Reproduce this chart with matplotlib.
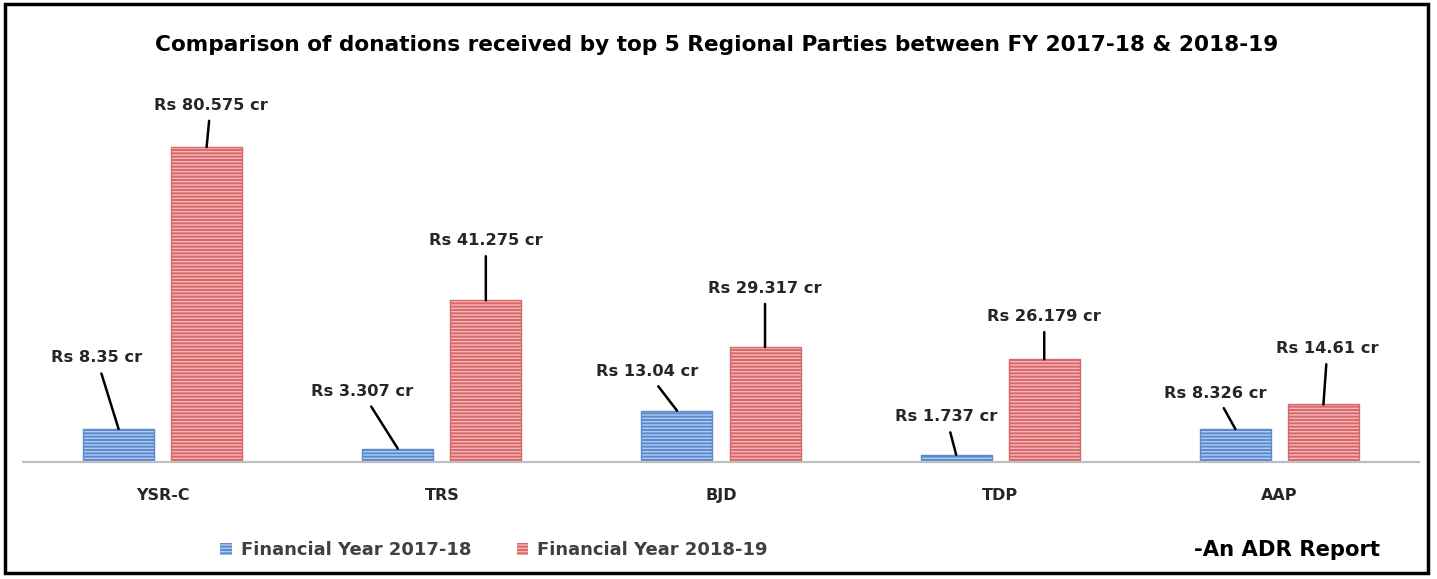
import numpy as np
import matplotlib
matplotlib.use("Agg")
import matplotlib.pyplot as plt
from matplotlib.patches import Rectangle, Patch

parties = ["YSR-C", "TRS", "BJD", "TDP", "AAP"]
fy_2017_18 = [8.35, 3.307, 13.04, 1.737, 8.326]
fy_2018_19 = [80.575, 41.275, 29.317, 26.179, 14.61]
labels_2017_18 = ["Rs 8.35 cr", "Rs 3.307 cr", "Rs 13.04 cr", "Rs 1.737 cr", "Rs 8.326 cr"]
labels_2018_19 = ["Rs 80.575 cr", "Rs 41.275 cr", "Rs 29.317 cr", "Rs 26.179 cr", "Rs 14.61 cr"]
series_names = ["Financial Year 2017-18", "Financial Year 2018-19"]

# callout text offsets (pixels) relative to the top of each bar
offsets_2017_18 = [(-22, 71), (-36, 57), (-30, 39), (-10, 38), (-20, 36)]
offsets_2018_19 = [(4, 42), (0, 60), (0, 59), (0, 43), (4, 56)]

plt.rcParams['font.family'] = ['DejaVu Sans']

W, H = 1437, 579
fig = plt.figure(figsize=(W / 100, H / 100), dpi=100)
ax = fig.add_axes([23 / W, 1 - 461.5 / H, (1419 - 23) / W, (461.5 - 100) / H])

blue, blue_light = "#5a8ad0", "#b3cbee"
red, red_light = "#d9676a", "#f3b9ba"
plt.rcParams['hatch.linewidth'] = 1.0

x = np.arange(len(parties))
width = 71 / 279
shift = (71 + 17) / 279 / 2

for vals, col, light, off in [(fy_2017_18, blue, blue_light, -shift),
                              (fy_2018_19, red, red_light, shift)]:
    ax.bar(x + off, vals, width, color=col, edgecolor=light, linewidth=0, hatch="-----")
    ax.bar(x + off, vals, width, fill=False, edgecolor=col, linewidth=1)

for vals, labs, offs, off in [(fy_2017_18, labels_2017_18, offsets_2017_18, -shift),
                              (fy_2018_19, labels_2018_19, offsets_2018_19, shift)]:
    for i, (v, lab, (dx, dy)) in enumerate(zip(vals, labs, offs)):
        ax.annotate(lab, xy=(i + off, v), xytext=(dx, dy), textcoords="offset pixels",
                    ha="center", va="center", fontsize=11.7, fontweight="bold", color="#262626",
                    arrowprops=dict(arrowstyle="-", color="black", lw=1.8, shrinkA=4, shrinkB=0))

ax.set_xlim(-0.5, 4.5)
ax.set_ylim(0, 80.575 * (461.5 - 100) / (461.5 - 147))
ax.set_xticks(x)
ax.set_xticklabels(parties, fontsize=11.5, fontweight="bold", color="#262626")
ax.tick_params(axis="x", length=0, pad=19)
ax.set_yticks([])
for s in ["top", "left", "right"]:
    ax.spines[s].set_visible(False)
ax.spines["bottom"].set_color("#bfbfbf")
ax.spines["bottom"].set_linewidth(1.6)

fig.text(717 / W, 1 - 45 / H,
         "Comparison of donations received by top 5 Regional Parties between FY 2017-18 & 2018-19",
         ha="center", va="center", fontsize=15.6, fontweight="bold", color="black")

handles = [Patch(facecolor=blue, edgecolor=blue_light, hatch="-----", linewidth=0),
           Patch(facecolor=red, edgecolor=red_light, hatch="-----", linewidth=0)]
leg = fig.legend(handles, series_names, loc="center", bbox_to_anchor=(494 / W, 1 - 550 / H), ncol=2,
                 frameon=False, prop=dict(weight="bold", size=13),
                 handlelength=0.65, handleheight=0.65, handletextpad=0.5, columnspacing=2.5)
for t in leg.get_texts():
    t.set_color("#404040")

fig.text(1287 / W, 1 - 550 / H, "-An ADR Report", ha="center", va="center",
         fontsize=15.2, fontweight="bold", color="black")

fig.add_artist(Rectangle((5 / W, 1 - 573 / H), 1423 / W, 569 / H, transform=fig.transFigure,
                         fill=False, edgecolor="black", linewidth=2.5))

fig.savefig("out.png", dpi=100, facecolor="white")
